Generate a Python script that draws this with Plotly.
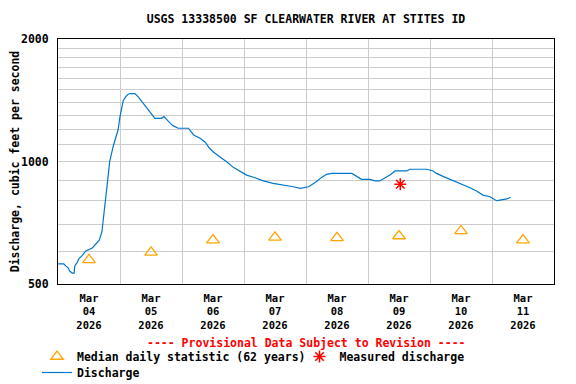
import plotly.graph_objects as go

TITLE = "USGS 13338500 SF CLEARWATER RIVER AT STITES ID"

# Discharge (15-min provisional)
discharge_time = [
    "2026-03-04 00:00", "2026-03-04 02:15", "2026-03-04 03:00", "2026-03-04 04:00",
    "2026-03-04 04:30", "2026-03-04 05:30", "2026-03-04 06:15", "2026-03-04 06:30",
    "2026-03-04 07:30", "2026-03-04 08:00", "2026-03-04 09:15", "2026-03-04 10:45",
    "2026-03-04 13:15", "2026-03-04 14:45", "2026-03-04 16:00", "2026-03-04 17:00",
    "2026-03-04 17:15", "2026-03-04 18:15", "2026-03-04 19:15", "2026-03-04 20:00",
    "2026-03-04 21:30", "2026-03-04 22:15", "2026-03-04 23:15", "2026-03-05 00:00",
    "2026-03-05 00:45", "2026-03-05 01:15", "2026-03-05 02:15", "2026-03-05 03:15",
    "2026-03-05 04:00", "2026-03-05 05:45", "2026-03-05 07:00", "2026-03-05 08:30",
    "2026-03-05 10:15", "2026-03-05 13:00", "2026-03-05 13:30", "2026-03-05 16:00",
    "2026-03-05 17:00", "2026-03-05 19:30", "2026-03-05 20:30", "2026-03-05 22:30",
    "2026-03-06 02:30", "2026-03-06 04:30", "2026-03-06 07:00", "2026-03-06 09:00",
    "2026-03-06 10:30", "2026-03-06 12:00", "2026-03-06 14:45", "2026-03-06 17:15",
    "2026-03-06 20:00", "2026-03-06 22:30", "2026-03-07 01:00", "2026-03-07 04:15",
    "2026-03-07 07:30", "2026-03-07 11:15", "2026-03-07 16:00", "2026-03-07 19:00",
    "2026-03-07 21:45", "2026-03-08 00:15", "2026-03-08 01:00", "2026-03-08 04:00",
    "2026-03-08 06:00", "2026-03-08 08:00", "2026-03-08 10:00", "2026-03-08 17:45",
    "2026-03-08 19:00", "2026-03-08 21:30", "2026-03-09 00:45", "2026-03-09 02:45",
    "2026-03-09 04:30", "2026-03-09 06:30", "2026-03-09 08:30", "2026-03-09 10:30",
    "2026-03-09 15:00", "2026-03-09 16:15", "2026-03-09 22:45", "2026-03-10 01:15",
    "2026-03-10 02:30", "2026-03-10 05:15", "2026-03-10 07:45", "2026-03-10 10:15",
    "2026-03-10 13:00", "2026-03-10 15:30", "2026-03-10 18:00", "2026-03-10 20:30",
    "2026-03-10 23:15", "2026-03-11 01:45", "2026-03-11 03:00", "2026-03-11 05:45",
    "2026-03-11 07:15",
]
discharge_cfs = [
    560, 560, 554, 547, 538, 532, 532, 554, 566, 576, 586, 603,
    613, 627, 641, 672, 698, 791, 901, 999, 1098, 1140, 1195, 1289,
    1364, 1411, 1443, 1465, 1469, 1469, 1443, 1403, 1351, 1289, 1277, 1277,
    1289, 1241, 1225, 1207, 1207, 1162, 1140, 1115, 1081, 1057, 1028, 999,
    966, 944, 926, 912, 896, 884, 875, 867, 859, 864, 867, 892,
    914, 930, 935, 935, 923, 904, 904, 896, 896, 909, 926, 948,
    948, 957, 957, 948, 935, 918, 904, 892, 875, 862, 846, 827,
    819, 801, 804, 809, 817,
]

# Median daily statistic (62 years)
median_time = ["2026-03-04 12:00", "2026-03-05 12:00", "2026-03-06 12:00", "2026-03-07 12:00",
               "2026-03-08 12:00", "2026-03-09 12:00", "2026-03-10 12:00", "2026-03-11 12:00"]
median_cfs = [573, 598, 641, 651, 649, 656, 675, 641]

# Measured discharge
measured_time = ["2026-03-09 12:30"]
measured_cfs = [879]

# Axis ticks
x_label_vals = median_time
x_label_text = ["Mar<br>04<br>2026", "Mar<br>05<br>2026", "Mar<br>06<br>2026", "Mar<br>07<br>2026",
                "Mar<br>08<br>2026", "Mar<br>09<br>2026", "Mar<br>10<br>2026", "Mar<br>11<br>2026"]
x_grid_vals = ["2026-03-05", "2026-03-06", "2026-03-07", "2026-03-08",
               "2026-03-09", "2026-03-10", "2026-03-11"]
y_tick_vals = [500, 600, 700, 800, 900, 1000, 1100, 1200, 1300, 1400,
               1500, 1600, 1700, 1800, 1900, 2000]
y_tick_text = ["500", "", "", "", "", "1000", "", "", "", "",
               "", "", "", "", "", "2000"]

FONT = "DejaVu Sans Mono"
FS = 11.5
BLUE = "#0077CC"
ORANGE = "#FFA500"
RED = "#FF0000"
GRID = "#CCCCCC"

# the page puts the figure 8px in from the top-left corner
W, H = 568, 376


def bfont(color="black", size=FS):
    return dict(family=FONT, size=size, color=color, weight="bold")


fig = go.Figure()
fig.add_trace(go.Scatter(
    x=median_time, y=median_cfs, mode="markers",
    name="Median daily statistic (62 years)", legend="legend",
    marker=dict(symbol="triangle-up-open", size=11, color=ORANGE, line=dict(width=1.3, color=ORANGE)),
))
fig.add_trace(go.Scatter(
    x=measured_time, y=measured_cfs, mode="markers",
    name="Measured discharge", legend="legend2",
    marker=dict(symbol="asterisk-open", size=10, color=RED, line=dict(width=1.5, color=RED)),
))
fig.add_trace(go.Scatter(
    x=discharge_time, y=discharge_cfs, mode="lines",
    name="Discharge", legend="legend3",
    line=dict(color=BLUE, width=1.2),
))

LEG_X = -0.0423
leg_common = dict(orientation="h", xanchor="left", yanchor="middle",
                  font=bfont(), itemwidth=30, bgcolor="rgba(0,0,0,0)")

fig.update_layout(
    width=W, height=H,
    margin=dict(l=50, r=22, t=31, b=100, autoexpand=False),
    paper_bgcolor="white", plot_bgcolor="white",
    font=bfont(),
    title=dict(text=TITLE, x=0.5, xref="paper", xanchor="center",
               y=1 - 11 / H, yanchor="middle", font=bfont()),
    showlegend=True,
    legend=dict(x=LEG_X, y=(284 - 356.5) / 245, **leg_common),
    legend2=dict(x=0.4869, y=(284 - 356.5) / 245, **leg_common),
    legend3=dict(x=LEG_X, y=(284 - 372.5) / 245, **leg_common),
    xaxis=dict(
        type="date", range=["2026-03-04", "2026-03-12"],
        tickmode="array", tickvals=x_label_vals, ticktext=x_label_text,
        showgrid=False, ticks="", zeroline=False, automargin=False,
        showline=True, linecolor="black", linewidth=1, mirror=True,
        tickfont=bfont(size=10.5),
        minor=dict(tickmode="array", tickvals=x_grid_vals, showgrid=True,
                   gridcolor=GRID, gridwidth=1, ticks=""),
        ticklabelstandoff=4,
    ),
    yaxis=dict(
        type="log", range=[2.69897, 3.30103], automargin=False,
        tickmode="array", tickvals=y_tick_vals, ticktext=y_tick_text,
        showgrid=True, gridcolor=GRID, gridwidth=1, ticks="", zeroline=False,
        showline=True, linecolor="black", linewidth=1, mirror=True,
        tickfont=bfont(),
        title=dict(text="Discharge, cubic feet per second", standoff=1, font=bfont()),
        ticklabelstandoff=6,
    ),
)

fig.add_annotation(
    text="---- Provisional Data Subject to Revision ----",
    xref="paper", yref="paper", x=0.5, y=(284 - 343) / 245,
    xanchor="center", yanchor="middle", showarrow=False,
    font=bfont(RED),
)

fig.write_html("out.html")
